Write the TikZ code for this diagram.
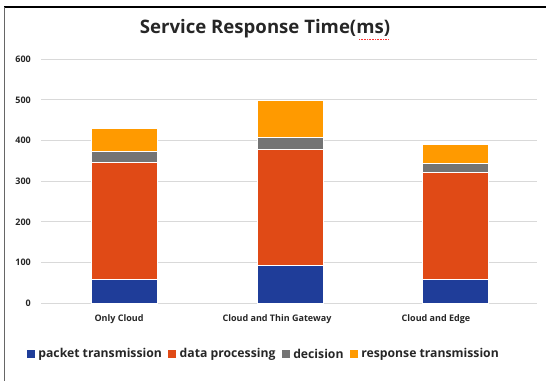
\documentclass[tikz,border=0pt]{standalone}
\usepackage{fontspec}
\setmainfont{Open Sans}
\usetikzlibrary{positioning}
\definecolor{packetblue}{HTML}{1F3D99}
\definecolor{dataorange}{HTML}{E04A16}
\definecolor{decisiongray}{HTML}{747474}
\definecolor{responseyellow}{HTML}{FF9A00}
\definecolor{gridgray}{HTML}{D9D9D9}
\tikzset{
	gridline/.style={draw=gridgray, line width=0.9pt},
	bar/.style={draw=white, line width=0.5pt},
	ticklabel/.style={anchor=east, inner sep=0pt, text=black!85, font=\bfseries\fontsize{9}{10}\selectfont},
	catlabel/.style={inner sep=0pt, text=black!85, font=\bfseries\fontsize{9}{10}\selectfont},
	legendbox/.style={minimum size=8pt, inner sep=0pt},
	legendtext/.style={inner sep=0pt, text=black!85, font=\bfseries\fontsize{12.2}{14}\selectfont},
}

\begin{document}
\begin{tikzpicture}[x=1pt, y=-1pt]
		%%%%% START %%%%%
		\useasboundingbox (0,0) rectangle (546,381);
		
		% frame
		\draw[line width=1.3pt] (4,7) -- (546,7);
		\draw[line width=1pt, color=black!60] (4.5,7) -- (4.5,381);
		
		% title
		\node[font=\bfseries\fontsize{18.6}{22}\selectfont, text=black!85] (title) at (265,29) {Service Response Time(ms)};
		\draw[color=red!80, densely dotted, line width=0.6pt] (359,39) -- (388,39);
		
		\begin{scope}[shift={(0,303.3)}, y=0.407pt]
		% grid
		\draw[gridline] (41,0) -- (537,0);
		\draw[gridline] (41,100) -- (537,100);
		\draw[gridline] (41,200) -- (537,200);
		\draw[gridline] (41,300) -- (537,300);
		\draw[gridline] (41,400) -- (537,400);
		\draw[gridline] (41,500) -- (537,500);
		\draw[gridline] (41,600) -- (537,600);
		
		\node[ticklabel] (y0) at (31,0) {0};
		\node[ticklabel] (y100) at (31,100) {100};
		\node[ticklabel] (y200) at (31,200) {200};
		\node[ticklabel] (y300) at (31,300) {300};
		\node[ticklabel] (y400) at (31,400) {400};
		\node[ticklabel] (y500) at (31,500) {500};
		\node[ticklabel] (y600) at (31,600) {600};
		
		% only cloud
		\fill[bar, fill=packetblue] (91,0) rectangle (157,60);
		\fill[bar, fill=dataorange] (91,60) rectangle (157,347);
		\fill[bar, fill=decisiongray] (91,347) rectangle (157,374);
		\fill[bar, fill=responseyellow] (91,374) rectangle (157,431);
		
		% cloud and thin gateway
		\fill[bar, fill=packetblue] (257,0) rectangle (323,94);
		\fill[bar, fill=dataorange] (257,94) rectangle (323,379);
		\fill[bar, fill=decisiongray] (257,379) rectangle (323,409);
		\fill[bar, fill=responseyellow] (257,409) rectangle (323,500);
		
		% cloud and edge
		\fill[bar, fill=packetblue] (422,0) rectangle (488,58);
		\fill[bar, fill=dataorange] (422,58) rectangle (488,323);
		\fill[bar, fill=decisiongray] (422,323) rectangle (488,344);
		\fill[bar, fill=responseyellow] (422,344) rectangle (488,392);
		\end{scope}
		
		\node[catlabel] (onlycloud) at (119,319) {Only Cloud};
		\node[catlabel] (thingateway) at (277,319) {Cloud and Thin Gateway};
		\node[catlabel] (cloudedge) at (436,319) {Cloud and Edge};
		
		% legend
		\node[legendbox, fill=packetblue] (lgpacket) at (31,354) {};
		\node[legendtext, right=3pt of lgpacket] (lgpackettext) {packet transmission};
		\node[legendbox, fill=dataorange, right=6pt of lgpackettext] (lgdata) {};
		\node[legendtext, right=3pt of lgdata] (lgdatatext) {data processing};
		\node[legendbox, fill=decisiongray, right=6pt of lgdatatext] (lgdecision) {};
		\node[legendtext, right=3pt of lgdecision] (lgdecisiontext) {decision};
		\node[legendbox, fill=responseyellow, right=6pt of lgdecisiontext] (lgresponse) {};
		\node[legendtext, right=3pt of lgresponse] (lgresponsetext) {response transmission};
		
		%%%%% END %%%%%
\end{tikzpicture}
\end{document}
